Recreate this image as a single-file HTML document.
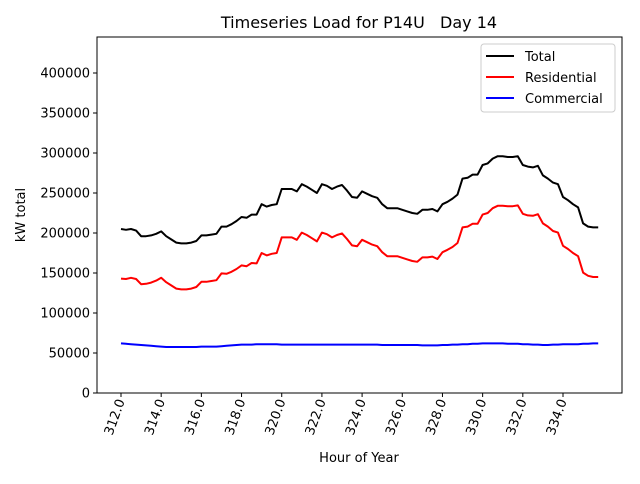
<!DOCTYPE html>
<html><head><meta charset="utf-8"><style>
body{margin:0;background:#fff;font-family:"DejaVu Sans","Liberation Sans",sans-serif}
svg text{font-family:"DejaVu Sans","Liberation Sans",sans-serif;fill:#000}
</style></head><body>
<svg id="chart" width="640" height="480" xmlns="http://www.w3.org/2000/svg"></svg>
<script>
const hours=[];for(let i=0;i<96;i++)hours.push(312+i*0.25);
const totalK=[205,204,205,203,196,196,197,199,202,196,192,188,187,187,188,190,197,197,198,199,208,208,211,215,220,219,223,223,236,233,235,236,255,255,255,252,261,258,254,250,261,259,255,258,260,253,245,244,252,249,246,244,236,231,231,231,229,227,225,224,229,229,230,227,236,239,243,248,268,269,273,273,285,287,293,296,296,295,295,296,285,283,282,284,272,268,263,261,245,241,236,232,212,208,207,207];
const residentialK=[143,142.5,144,142.5,136,136.5,138,140.5,144,138.5,134.5,130.5,129.5,129.5,130.5,132.5,139,139,140,141,149.5,149,151.5,155,159.5,158.5,162.5,162,175,172,174,175,194.5,194.5,194.5,191.5,200.5,197.5,193.5,189.5,200.5,198.5,194.5,197.5,199.5,192.5,184.5,183.5,191.5,188.5,185.5,183.5,176,171,171,171,169,167,165,164,169.5,169.5,170.5,167.5,176,179,182.5,187.5,207,208,211.5,211.5,223,225,231,234,234,233.5,233.5,234.5,224,222,221.5,223.5,212,208,202.5,200.5,184,180,175,171,150.5,146.5,145,145];
const commercialK=[62,61.5,61,60.5,60,59.5,59,58.5,58,57.5,57.5,57.5,57.5,57.5,57.5,57.5,58,58,58,58,58.5,59,59.5,60,60.5,60.5,60.5,61,61,61,61,61,60.5,60.5,60.5,60.5,60.5,60.5,60.5,60.5,60.5,60.5,60.5,60.5,60.5,60.5,60.5,60.5,60.5,60.5,60.5,60.5,60,60,60,60,60,60,60,60,59.5,59.5,59.5,59.5,60,60,60.5,60.5,61,61,61.5,61.5,62,62,62,62,62,61.5,61.5,61.5,61,61,60.5,60.5,60,60,60.5,60.5,61,61,61,61,61.5,61.5,62,62];
const yTicks=[0,50000,100000,150000,200000,250000,300000,350000,400000];
const xTicks=[312,314,316,318,320,322,324,326,328,330,332,334];
const NS="http://www.w3.org/2000/svg",svg=document.getElementById('chart');
const L=97,R=622,T=37,B=393;
const xs=h=>121+(h-312)*(442/22);
const ys=v=>B-v*(320/400000);
function el(t,a,p){const e=document.createElementNS(NS,t);for(const k in a)e.setAttribute(k,a[k]);(p||svg).appendChild(e);return e;}
const frame=el('rect',{x:L,y:T,width:R-L,height:B-T,fill:'none',stroke:'#000','stroke-width':1});


yTicks.forEach(v=>{const y=ys(v);
 const tk=el('line',{x1:L-4,x2:L,y1:y,y2:y,stroke:'#000'});
 
 
 const t=el('text',{x:L-7,y:y+4.5,'text-anchor':'end','font-size':13});t.textContent=v;
 
 });
xTicks.forEach(h=>{const x=xs(h);
 const tk=el('line',{x1:x,x2:x,y1:B,y2:B+4,stroke:'#000'});
 
 
 const t=el('text',{x:0,y:0,'text-anchor':'end','font-size':13,transform:`translate(${x+4},${B+8}) rotate(-70)`});t.textContent=h.toFixed(1);
 
 });
function line(arr,col,name){const d=arr.map((v,i)=>(i?'L':'M')+xs(hours[i]).toFixed(1)+' '+ys(v*1000).toFixed(1)).join(' ');
 const p=el('path',{d,fill:'none',stroke:col,'stroke-width':2,'stroke-linejoin':'round'});
 
 }
line(totalK,'#000','total-line');line(residentialK,'#f00','residential-line');line(commercialK,'#00f','commercial-line');
const title=el('text',{x:359,y:28,'text-anchor':'middle','font-size':16,style:'white-space:pre'});title.textContent='Timeseries Load for P14U   Day 14';


const xl=el('text',{x:359,y:462,'text-anchor':'middle','font-size':13});xl.textContent='Hour of Year';


const yl=el('text',{x:0,y:0,'text-anchor':'middle','font-size':13,transform:'translate(25,215) rotate(-90)'});yl.textContent='kW total';


const lg=el('g',{});


el('rect',{x:481,y:44,width:134,height:68,fill:'#fff',stroke:'#ccc',rx:3},lg);
[['Total','#000'],['Residential','#f00'],['Commercial','#00f']].forEach((e,i)=>{const y=56+i*21;
 const g=el('g',{},lg);
 
 
 el('line',{x1:486,x2:514,y1:y,y2:y,stroke:e[1],'stroke-width':2},g);
 const t=el('text',{x:525,y:y+5,'font-size':13},g);t.textContent=e[0];});
</script>
</body></html>
